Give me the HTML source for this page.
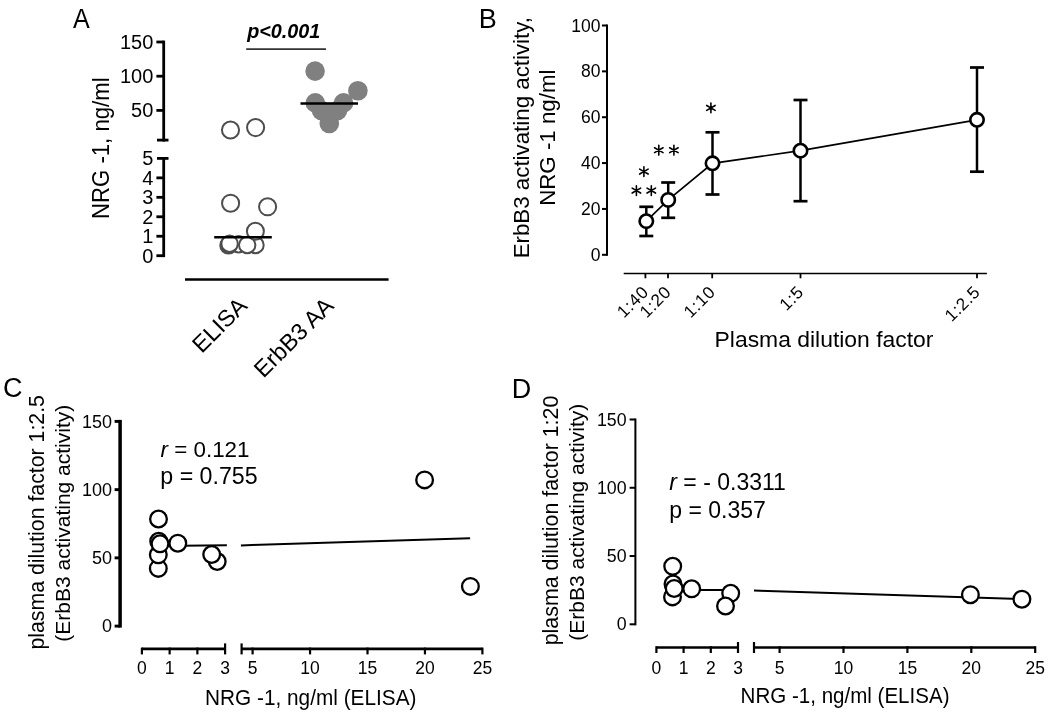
<!DOCTYPE html>
<html><head><meta charset="utf-8"><style>
html,body{margin:0;padding:0;background:#fff;}
svg{display:block;filter:blur(0.35px);}
text{font-family:"Liberation Sans", sans-serif;fill:#000;}
</style></head><body>
<svg width="1050" height="717" viewBox="0 0 1050 717">
<rect width="1050" height="717" fill="#fff"/>
<text x="0" y="0" font-size="27" text-anchor="start" transform="translate(73,27.6) scale(0.93,1)"  style="">A</text>
<rect x="156.4" y="40.6" width="7.3" height="2.8" fill="#000"/>
<text x="153.3" y="48.9" font-size="20" text-anchor="end"  style="">150</text>
<rect x="156.4" y="74.8" width="7.3" height="2.8" fill="#000"/>
<text x="153.3" y="83.1" font-size="20" text-anchor="end"  style="">100</text>
<rect x="156.4" y="109.0" width="7.3" height="2.8" fill="#000"/>
<text x="153.3" y="117.3" font-size="20" text-anchor="end"  style="">50</text>
<rect x="162.3" y="40.6" width="2.8" height="100.9" fill="#000"/>
<rect x="157" y="138.7" width="11.5" height="2.8" fill="#000"/>
<rect x="157" y="157.0" width="11.5" height="2.8" fill="#000"/>
<text x="153.3" y="165.3" font-size="20" text-anchor="end"  style="">5</text>
<rect x="156.4" y="176.46" width="7.3" height="2.8" fill="#000"/>
<text x="153.3" y="184.76" font-size="20" text-anchor="end"  style="">4</text>
<rect x="156.4" y="195.92" width="7.3" height="2.8" fill="#000"/>
<text x="153.3" y="204.22" font-size="20" text-anchor="end"  style="">3</text>
<rect x="156.4" y="215.38" width="7.3" height="2.8" fill="#000"/>
<text x="153.3" y="223.68" font-size="20" text-anchor="end"  style="">2</text>
<rect x="156.4" y="234.84" width="7.3" height="2.8" fill="#000"/>
<text x="153.3" y="243.14" font-size="20" text-anchor="end"  style="">1</text>
<rect x="156.4" y="254.3" width="7.3" height="2.8" fill="#000"/>
<text x="153.3" y="262.6" font-size="20" text-anchor="end"  style="">0</text>
<rect x="162.3" y="157.0" width="2.8" height="100.1" fill="#000"/>
<text x="0" y="0" font-size="22.15" text-anchor="middle" transform="translate(109.1,148.2) rotate(-90) scale(1,1.05)"  style="">NRG -1, ng/ml</text>
<text x="247.2" y="37.7" font-size="19.8" text-anchor="start"  style="font-weight:bold;font-style:italic">p&lt;0.001</text>
<line x1="246.2" y1="49.1" x2="326" y2="49.1" stroke="#333" stroke-width="1.6" stroke-linecap="butt"/>
<circle cx="230.5" cy="130" r="8.55" fill="#fff" stroke="#4d4d4d" stroke-width="2.0"/>
<circle cx="255.6" cy="127.6" r="8.55" fill="#fff" stroke="#4d4d4d" stroke-width="2.0"/>
<circle cx="230.6" cy="203.2" r="8.55" fill="#fff" stroke="#4d4d4d" stroke-width="2.0"/>
<circle cx="267.6" cy="206.8" r="8.55" fill="#fff" stroke="#4d4d4d" stroke-width="2.0"/>
<circle cx="255.5" cy="245.0" r="8.2" fill="#fff" stroke="#4d4d4d" stroke-width="2.0"/>
<circle cx="238.6" cy="244.2" r="8.2" fill="#fff" stroke="#4d4d4d" stroke-width="2.0"/>
<circle cx="228.5" cy="245.4" r="8.2" fill="#fff" stroke="#4d4d4d" stroke-width="2.0"/>
<circle cx="229.1" cy="244.6" r="8.2" fill="#fff" stroke="#4d4d4d" stroke-width="2.0"/>
<circle cx="229.6" cy="243.7" r="8.2" fill="#fff" stroke="#4d4d4d" stroke-width="2.0"/>
<circle cx="247.2" cy="245.0" r="8.2" fill="#fff" stroke="#4d4d4d" stroke-width="2.0"/>
<circle cx="255.4" cy="231.3" r="8.5" fill="#fff" stroke="#4d4d4d" stroke-width="2.0"/>
<line x1="214.2" y1="237.2" x2="271.8" y2="237.2" stroke="#000" stroke-width="2.6" stroke-linecap="butt"/>
<circle cx="315.1" cy="71.1" r="9.8" fill="#808080" stroke="none" stroke-width="0"/>
<circle cx="357.9" cy="90.8" r="9.8" fill="#808080" stroke="none" stroke-width="0"/>
<circle cx="315.3" cy="102.9" r="9.8" fill="#808080" stroke="none" stroke-width="0"/>
<circle cx="343.5" cy="102.9" r="9.8" fill="#808080" stroke="none" stroke-width="0"/>
<circle cx="321.5" cy="110.5" r="9.8" fill="#808080" stroke="none" stroke-width="0"/>
<circle cx="337.5" cy="110.5" r="9.8" fill="#808080" stroke="none" stroke-width="0"/>
<circle cx="329.3" cy="112.3" r="9.8" fill="#808080" stroke="none" stroke-width="0"/>
<circle cx="329.3" cy="123.5" r="9.8" fill="#808080" stroke="none" stroke-width="0"/>
<line x1="300.5" y1="103.5" x2="358" y2="103.5" stroke="#000" stroke-width="2.6" stroke-linecap="butt"/>
<line x1="185" y1="279.5" x2="388.6" y2="279.5" stroke="#000" stroke-width="2.6" stroke-linecap="butt"/>
<text x="0" y="0" font-size="23.3" text-anchor="end" transform="translate(248.5,307.3) rotate(-45)"  style="">ELISA</text>
<text x="0" y="0" font-size="23.3" text-anchor="end" transform="translate(335,307.3) rotate(-45)"  style="">ErbB3 AA</text>
<text x="478.8" y="27.5" font-size="27" text-anchor="start"  style="">B</text>
<rect x="602" y="253.8" width="5" height="2" fill="#000"/>
<text x="600.4" y="260.8" font-size="17.5" text-anchor="end"  style="">0</text>
<rect x="602" y="207.94" width="5" height="2" fill="#000"/>
<text x="600.4" y="214.94" font-size="17.5" text-anchor="end"  style="">20</text>
<rect x="602" y="162.08" width="5" height="2" fill="#000"/>
<text x="600.4" y="169.08" font-size="17.5" text-anchor="end"  style="">40</text>
<rect x="602" y="116.22" width="5" height="2" fill="#000"/>
<text x="600.4" y="123.22" font-size="17.5" text-anchor="end"  style="">60</text>
<rect x="602" y="70.36" width="5" height="2" fill="#000"/>
<text x="600.4" y="77.36" font-size="17.5" text-anchor="end"  style="">80</text>
<rect x="602" y="24.5" width="5" height="2" fill="#000"/>
<text x="600.4" y="31.5" font-size="17.5" text-anchor="end"  style="">100</text>
<rect x="606.0" y="24.5" width="2" height="231.3" fill="#000"/>
<line x1="623.7" y1="273.6" x2="986.9" y2="273.6" stroke="#000" stroke-width="1.5" stroke-linecap="butt"/>
<line x1="645.4" y1="273.6" x2="645.4" y2="278.3" stroke="#000" stroke-width="1.8" stroke-linecap="butt"/>
<text x="0" y="0" font-size="17.2" text-anchor="end" transform="translate(649.7,293.0) rotate(-45)"  style="letter-spacing:0.7px">1:40</text>
<line x1="668.0" y1="273.6" x2="668.0" y2="278.3" stroke="#000" stroke-width="1.8" stroke-linecap="butt"/>
<text x="0" y="0" font-size="17.2" text-anchor="end" transform="translate(672.3,293.0) rotate(-45)"  style="letter-spacing:0.7px">1:20</text>
<line x1="712.2" y1="273.6" x2="712.2" y2="278.3" stroke="#000" stroke-width="1.8" stroke-linecap="butt"/>
<text x="0" y="0" font-size="17.2" text-anchor="end" transform="translate(716.5,293.0) rotate(-45)"  style="letter-spacing:0.7px">1:10</text>
<line x1="800.5" y1="273.6" x2="800.5" y2="278.3" stroke="#000" stroke-width="1.8" stroke-linecap="butt"/>
<text x="0" y="0" font-size="17.2" text-anchor="end" transform="translate(804.8,293.0) rotate(-45)"  style="letter-spacing:0.7px">1:5</text>
<line x1="977.0" y1="273.6" x2="977.0" y2="278.3" stroke="#000" stroke-width="1.8" stroke-linecap="butt"/>
<text x="0" y="0" font-size="17.2" text-anchor="end" transform="translate(981.3,293.0) rotate(-45)"  style="letter-spacing:0.7px">1:2.5</text>
<text x="714.6" y="347" font-size="22.9" text-anchor="start"  style="">Plasma dilution factor</text>
<text x="0" y="0" font-size="22.3" text-anchor="middle" transform="translate(528.8,137.7) rotate(-90)"  style="">ErbB3 activating activity,</text>
<text x="0" y="0" font-size="22.3" text-anchor="middle" transform="translate(554.9,137.7) rotate(-90)"  style="">NRG -1 ng/ml</text>
<polyline points="646.3,221.2 668.2,199.9 712.5,163.3 800.5,150.7 977.0,119.8" fill="none" stroke="#000" stroke-width="1.7"/>
<line x1="646.3" y1="206.8" x2="646.3" y2="236.0" stroke="#000" stroke-width="2.5" stroke-linecap="butt"/>
<line x1="639.3" y1="206.8" x2="653.3" y2="206.8" stroke="#000" stroke-width="2.7" stroke-linecap="butt"/>
<line x1="639.3" y1="236.0" x2="653.3" y2="236.0" stroke="#000" stroke-width="2.7" stroke-linecap="butt"/>
<line x1="668.2" y1="182.5" x2="668.2" y2="217.8" stroke="#000" stroke-width="2.5" stroke-linecap="butt"/>
<line x1="661.2" y1="182.5" x2="675.2" y2="182.5" stroke="#000" stroke-width="2.7" stroke-linecap="butt"/>
<line x1="661.2" y1="217.8" x2="675.2" y2="217.8" stroke="#000" stroke-width="2.7" stroke-linecap="butt"/>
<line x1="712.5" y1="132.3" x2="712.5" y2="194.5" stroke="#000" stroke-width="2.5" stroke-linecap="butt"/>
<line x1="705.5" y1="132.3" x2="719.5" y2="132.3" stroke="#000" stroke-width="2.7" stroke-linecap="butt"/>
<line x1="705.5" y1="194.5" x2="719.5" y2="194.5" stroke="#000" stroke-width="2.7" stroke-linecap="butt"/>
<line x1="800.5" y1="100.0" x2="800.5" y2="201.2" stroke="#000" stroke-width="2.5" stroke-linecap="butt"/>
<line x1="793.5" y1="100.0" x2="807.5" y2="100.0" stroke="#000" stroke-width="2.7" stroke-linecap="butt"/>
<line x1="793.5" y1="201.2" x2="807.5" y2="201.2" stroke="#000" stroke-width="2.7" stroke-linecap="butt"/>
<line x1="977.0" y1="67.5" x2="977.0" y2="171.7" stroke="#000" stroke-width="2.5" stroke-linecap="butt"/>
<line x1="970.0" y1="67.5" x2="984.0" y2="67.5" stroke="#000" stroke-width="2.7" stroke-linecap="butt"/>
<line x1="970.0" y1="171.7" x2="984.0" y2="171.7" stroke="#000" stroke-width="2.7" stroke-linecap="butt"/>
<circle cx="646.3" cy="221.2" r="6.7" fill="#fff" stroke="#000" stroke-width="2.6"/>
<circle cx="668.2" cy="199.9" r="6.7" fill="#fff" stroke="#000" stroke-width="2.6"/>
<circle cx="712.5" cy="163.3" r="6.7" fill="#fff" stroke="#000" stroke-width="2.6"/>
<circle cx="800.5" cy="150.7" r="6.7" fill="#fff" stroke="#000" stroke-width="2.6"/>
<circle cx="977.0" cy="119.8" r="6.7" fill="#fff" stroke="#000" stroke-width="2.6"/>
<path d="M636.40,185.70L636.40,195.50M632.16,188.15L640.64,193.05M640.64,188.15L632.16,193.05" stroke="#000" stroke-width="1.6" stroke-linecap="round" fill="none"/>
<path d="M651.30,185.70L651.30,195.50M647.06,188.15L655.54,193.05M655.54,188.15L647.06,193.05" stroke="#000" stroke-width="1.6" stroke-linecap="round" fill="none"/>
<path d="M643.90,166.70L643.90,176.50M639.66,169.15L648.14,174.05M648.14,169.15L639.66,174.05" stroke="#000" stroke-width="1.6" stroke-linecap="round" fill="none"/>
<path d="M658.80,145.30L658.80,155.10M654.56,147.75L663.04,152.65M663.04,147.75L654.56,152.65" stroke="#000" stroke-width="1.6" stroke-linecap="round" fill="none"/>
<path d="M673.90,145.30L673.90,155.10M669.66,147.75L678.14,152.65M678.14,147.75L669.66,152.65" stroke="#000" stroke-width="1.6" stroke-linecap="round" fill="none"/>
<path d="M710.90,103.00L710.90,112.80M706.66,105.45L715.14,110.35M715.14,105.45L706.66,110.35" stroke="#000" stroke-width="1.6" stroke-linecap="round" fill="none"/>
<text x="2.9" y="396.5" font-size="27" text-anchor="start"  style="">C</text>
<rect x="114.6" y="624.65" width="5.5" height="2.9" fill="#000"/>
<text x="112" y="632.3" font-size="18" text-anchor="end"  style="">0</text>
<rect x="114.6" y="556.42" width="5.5" height="2.9" fill="#000"/>
<text x="112" y="564.07" font-size="18" text-anchor="end"  style="">50</text>
<rect x="114.6" y="488.18" width="5.5" height="2.9" fill="#000"/>
<text x="112" y="495.83" font-size="18" text-anchor="end"  style="">100</text>
<rect x="114.6" y="419.95" width="5.5" height="2.9" fill="#000"/>
<text x="112" y="427.6" font-size="18" text-anchor="end"  style="">150</text>
<rect x="118.35" y="419.9" width="3.5" height="207.7" fill="#000"/>
<text x="0" y="0" font-size="21.3" text-anchor="middle" transform="translate(44,522.3) rotate(-90)"  style="">plasma dilution factor 1:2.5</text>
<text x="0" y="0" font-size="21.0" text-anchor="middle" transform="translate(70.3,523.2) rotate(-90)"  style="">(ErbB3 activating activity)</text>
<line x1="141.9" y1="648.9" x2="225.1" y2="648.9" stroke="#000" stroke-width="2.6" stroke-linecap="butt"/>
<line x1="141.9" y1="647.6" x2="141.9" y2="654.4" stroke="#000" stroke-width="2.2" stroke-linecap="butt"/>
<text x="0" y="0" font-size="17.5" text-anchor="middle" transform="translate(141.9,674.4) scale(1,1.09)"  style="">0</text>
<line x1="169.63" y1="647.6" x2="169.63" y2="654.4" stroke="#000" stroke-width="2.2" stroke-linecap="butt"/>
<text x="0" y="0" font-size="17.5" text-anchor="middle" transform="translate(169.63,674.4) scale(1,1.09)"  style="">1</text>
<line x1="197.37" y1="647.6" x2="197.37" y2="654.4" stroke="#000" stroke-width="2.2" stroke-linecap="butt"/>
<text x="0" y="0" font-size="17.5" text-anchor="middle" transform="translate(197.37,674.4) scale(1,1.09)"  style="">2</text>
<line x1="225.1" y1="643.4" x2="225.1" y2="654.4" stroke="#000" stroke-width="2.2" stroke-linecap="butt"/>
<text x="0" y="0" font-size="17.5" text-anchor="middle" transform="translate(225.1,674.4) scale(1,1.09)"  style="">3</text>
<line x1="241.6" y1="648.9" x2="482.4" y2="648.9" stroke="#000" stroke-width="2.6" stroke-linecap="butt"/>
<line x1="241.6" y1="643.4" x2="241.6" y2="654.4" stroke="#000" stroke-width="2.2" stroke-linecap="butt"/>
<line x1="252.6" y1="647.6" x2="252.6" y2="654.4" stroke="#000" stroke-width="2.2" stroke-linecap="butt"/>
<text x="0" y="0" font-size="17.5" text-anchor="middle" transform="translate(252.6,674.4) scale(1,1.09)"  style="">5</text>
<line x1="310.05" y1="647.6" x2="310.05" y2="654.4" stroke="#000" stroke-width="2.2" stroke-linecap="butt"/>
<text x="0" y="0" font-size="17.5" text-anchor="middle" transform="translate(310.05,674.4) scale(1,1.09)"  style="">10</text>
<line x1="367.5" y1="647.6" x2="367.5" y2="654.4" stroke="#000" stroke-width="2.2" stroke-linecap="butt"/>
<text x="0" y="0" font-size="17.5" text-anchor="middle" transform="translate(367.5,674.4) scale(1,1.09)"  style="">15</text>
<line x1="424.95" y1="647.6" x2="424.95" y2="654.4" stroke="#000" stroke-width="2.2" stroke-linecap="butt"/>
<text x="0" y="0" font-size="17.5" text-anchor="middle" transform="translate(424.95,674.4) scale(1,1.09)"  style="">20</text>
<line x1="482.4" y1="647.6" x2="482.4" y2="654.4" stroke="#000" stroke-width="2.2" stroke-linecap="butt"/>
<text x="0" y="0" font-size="17.5" text-anchor="middle" transform="translate(482.4,674.4) scale(1,1.09)"  style="">25</text>
<text x="0" y="0" font-size="22.4" text-anchor="start" transform="translate(160.5,456.5)"  style=""><tspan style="font-style:italic">r</tspan> = 0.121</text>
<text x="0" y="0" font-size="23.2" text-anchor="start" transform="translate(160.3,484.3)"  style="">p = 0.755</text>
<text x="0" y="0" font-size="20.8" text-anchor="start" transform="translate(205.0,704.7) scale(1,1.1)"  style="">NRG -1, ng/ml (ELISA)</text>
<line x1="158" y1="545.9" x2="226.9" y2="545.3" stroke="#000" stroke-width="2" stroke-linecap="butt"/>
<line x1="240.9" y1="545.4" x2="470.1" y2="538.2" stroke="#000" stroke-width="2" stroke-linecap="butt"/>
<circle cx="158.3" cy="568.4" r="8.35" fill="#fff" stroke="#000" stroke-width="2.3"/>
<circle cx="158.3" cy="554.8" r="8.35" fill="#fff" stroke="#000" stroke-width="2.3"/>
<circle cx="158.7" cy="541.3" r="8.35" fill="#fff" stroke="#000" stroke-width="2.3"/>
<circle cx="160.0" cy="543.8" r="8.35" fill="#fff" stroke="#000" stroke-width="2.3"/>
<circle cx="158.5" cy="519.0" r="8.35" fill="#fff" stroke="#000" stroke-width="2.3"/>
<circle cx="177.8" cy="543.2" r="8.35" fill="#fff" stroke="#000" stroke-width="2.3"/>
<circle cx="217.2" cy="561.5" r="8.35" fill="#fff" stroke="#000" stroke-width="2.3"/>
<circle cx="211.7" cy="554.5" r="8.35" fill="#fff" stroke="#000" stroke-width="2.3"/>
<circle cx="424.6" cy="479.9" r="8.35" fill="#fff" stroke="#000" stroke-width="2.3"/>
<circle cx="470.4" cy="586.4" r="8.35" fill="#fff" stroke="#000" stroke-width="2.3"/>
<text x="511.8" y="397.9" font-size="27" text-anchor="start"  style="">D</text>
<rect x="629.6" y="623.3" width="5.8" height="2" fill="#000"/>
<text x="626.6" y="630.4" font-size="17.8" text-anchor="end"  style="">0</text>
<rect x="629.6" y="555.03" width="5.8" height="2" fill="#000"/>
<text x="626.6" y="562.13" font-size="17.8" text-anchor="end"  style="">50</text>
<rect x="629.6" y="486.77" width="5.8" height="2" fill="#000"/>
<text x="626.6" y="493.87" font-size="17.8" text-anchor="end"  style="">100</text>
<rect x="629.6" y="418.5" width="5.8" height="2" fill="#000"/>
<text x="626.6" y="425.6" font-size="17.8" text-anchor="end"  style="">150</text>
<rect x="634.4" y="418.5" width="2" height="206.8" fill="#000"/>
<text x="0" y="0" font-size="21.4" text-anchor="middle" transform="translate(558,520.5) rotate(-90)"  style="">plasma dilution factor 1:20</text>
<text x="0" y="0" font-size="21.0" text-anchor="middle" transform="translate(583.8,522.2) rotate(-90)"  style="">(ErbB3 activating activity)</text>
<line x1="656.4" y1="647.5" x2="738.0" y2="647.5" stroke="#000" stroke-width="2.6" stroke-linecap="butt"/>
<line x1="656.4" y1="646.2" x2="656.4" y2="653.0" stroke="#000" stroke-width="2.2" stroke-linecap="butt"/>
<text x="0" y="0" font-size="17.5" text-anchor="middle" transform="translate(656.4,673.5) scale(1,1.04)"  style="">0</text>
<line x1="683.6" y1="646.2" x2="683.6" y2="653.0" stroke="#000" stroke-width="2.2" stroke-linecap="butt"/>
<text x="0" y="0" font-size="17.5" text-anchor="middle" transform="translate(683.6,673.5) scale(1,1.04)"  style="">1</text>
<line x1="710.8" y1="646.2" x2="710.8" y2="653.0" stroke="#000" stroke-width="2.2" stroke-linecap="butt"/>
<text x="0" y="0" font-size="17.5" text-anchor="middle" transform="translate(710.8,673.5) scale(1,1.04)"  style="">2</text>
<line x1="738.0" y1="642.0" x2="738.0" y2="653.0" stroke="#000" stroke-width="2.2" stroke-linecap="butt"/>
<text x="0" y="0" font-size="17.5" text-anchor="middle" transform="translate(738.0,673.5) scale(1,1.04)"  style="">3</text>
<line x1="754" y1="647.5" x2="1035.2" y2="647.5" stroke="#000" stroke-width="2.6" stroke-linecap="butt"/>
<line x1="754" y1="642.0" x2="754" y2="653.0" stroke="#000" stroke-width="2.2" stroke-linecap="butt"/>
<line x1="779.6" y1="646.2" x2="779.6" y2="653.0" stroke="#000" stroke-width="2.2" stroke-linecap="butt"/>
<text x="0" y="0" font-size="17.5" text-anchor="middle" transform="translate(779.6,673.5) scale(1,1.04)"  style="">5</text>
<line x1="843.5" y1="646.2" x2="843.5" y2="653.0" stroke="#000" stroke-width="2.2" stroke-linecap="butt"/>
<text x="0" y="0" font-size="17.5" text-anchor="middle" transform="translate(843.5,673.5) scale(1,1.04)"  style="">10</text>
<line x1="907.4" y1="646.2" x2="907.4" y2="653.0" stroke="#000" stroke-width="2.2" stroke-linecap="butt"/>
<text x="0" y="0" font-size="17.5" text-anchor="middle" transform="translate(907.4,673.5) scale(1,1.04)"  style="">15</text>
<line x1="971.3" y1="646.2" x2="971.3" y2="653.0" stroke="#000" stroke-width="2.2" stroke-linecap="butt"/>
<text x="0" y="0" font-size="17.5" text-anchor="middle" transform="translate(971.3,673.5) scale(1,1.04)"  style="">20</text>
<line x1="1035.2" y1="646.2" x2="1035.2" y2="653.0" stroke="#000" stroke-width="2.2" stroke-linecap="butt"/>
<text x="0" y="0" font-size="17.5" text-anchor="middle" transform="translate(1035.2,673.5) scale(1,1.04)"  style="">25</text>
<text x="0" y="0" font-size="23" text-anchor="start" transform="translate(669.3,489.9)"  style=""><tspan style="font-style:italic">r</tspan> = - 0.3311</text>
<text x="0" y="0" font-size="23" text-anchor="start" transform="translate(669.3,517.8)"  style="">p = 0.357</text>
<text x="0" y="0" font-size="20.55" text-anchor="start" transform="translate(740.6,703.1) scale(1,1.1)"  style="">NRG -1, ng/ml (ELISA)</text>
<line x1="672.5" y1="589.9" x2="738.2" y2="589.9" stroke="#000" stroke-width="2" stroke-linecap="butt"/>
<line x1="754" y1="590.5" x2="1022" y2="599" stroke="#000" stroke-width="2" stroke-linecap="butt"/>
<circle cx="672.5" cy="596.9" r="8.35" fill="#fff" stroke="#000" stroke-width="2.3"/>
<circle cx="673.0" cy="584.0" r="8.35" fill="#fff" stroke="#000" stroke-width="2.3"/>
<circle cx="674.2" cy="588.5" r="8.35" fill="#fff" stroke="#000" stroke-width="2.3"/>
<circle cx="672.7" cy="566.3" r="8.35" fill="#fff" stroke="#000" stroke-width="2.3"/>
<circle cx="691.7" cy="588.8" r="8.35" fill="#fff" stroke="#000" stroke-width="2.3"/>
<circle cx="730.7" cy="593.3" r="8.35" fill="#fff" stroke="#000" stroke-width="2.3"/>
<circle cx="725.5" cy="606.0" r="8.35" fill="#fff" stroke="#000" stroke-width="2.3"/>
<circle cx="970.4" cy="594.7" r="8.35" fill="#fff" stroke="#000" stroke-width="2.3"/>
<circle cx="1021.9" cy="599.2" r="8.35" fill="#fff" stroke="#000" stroke-width="2.3"/>
</svg></body></html>
